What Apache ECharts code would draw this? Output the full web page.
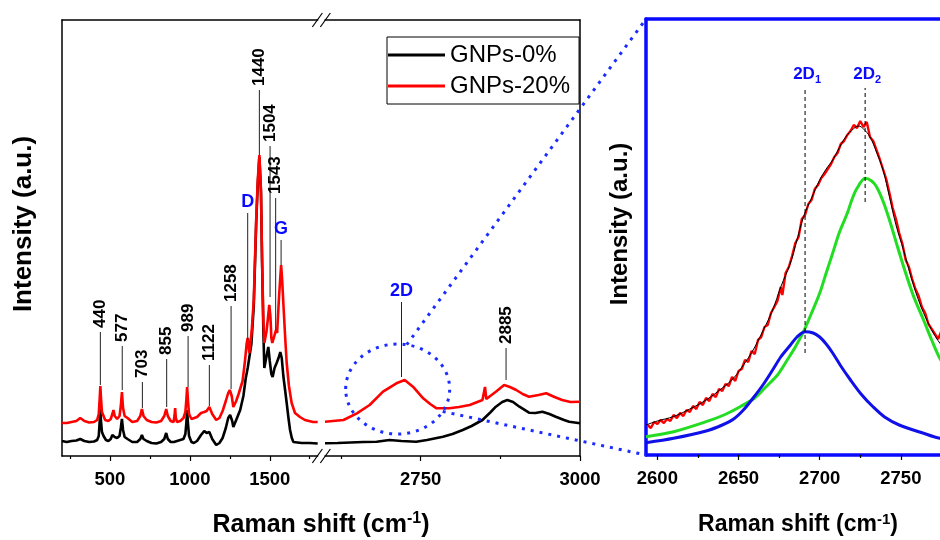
<!DOCTYPE html>
<html><head><meta charset="utf-8">
<script src="https://cdn.jsdelivr.net/npm/echarts@6/dist/echarts.min.js"></script>
<style>html,body{margin:0;padding:0;background:#fff}#c{width:940px;height:540px}</style>
</head><body><div id="c"></div>
<script>
const FONT = '"Liberation Sans", Arial, Helvetica, sans-serif';

// ---------- DATA ----------
// Left (main) panel, low-wavenumber segment 200-1800 cm-1
const gnp0Low = [[200,15],[230,14],[260,15],[290,15.5],[314,17],[340,15],[370,14],[400,14.5],[420,16],[430,20],[436,35],[440,47],[444,35],[450,24],[460,20],[475,16],[490,15],[505,17],[515,21],[522,23],[530,19],[545,18],[560,20],[568,28],[575,37],[582,26],[592,19],[610,17],[640,14],[670,14],[690,17],[700,21],[710,17],[730,15],[760,13],[790,12.5],[820,14],[840,17],[852,23],[862,17],[880,14],[900,14],[920,15],[940,16],[960,17],[972,22],[978,33],[983,46],[988,33],[995,20],[1010,14],[1025,13],[1045,15],[1070,21],[1090,25],[1105,23],[1122,24],[1140,17],[1165,11],[1185,13],[1205,18],[1225,28],[1240,38],[1252,41],[1265,35],[1272,29],[1290,36],[1315,46],[1335,60],[1350,78],[1362,88],[1372,90],[1385,112],[1400,150],[1415,232],[1425,272],[1435,299],[1445,264],[1452,194],[1460,125],[1466,88],[1480,100],[1491,109],[1500,95],[1510,82],[1518,79],[1530,88],[1543,93],[1555,98],[1566,104],[1575,98],[1585,80],[1596,66],[1606,53],[1617,38],[1627,26],[1638,18],[1648,14],[1700,13],[1750,13],[1800,12.5]];
const gnp20Low = [[200,33],[230,33],[260,34],[290,35],[314,38],[340,35],[370,33.5],[400,34],[420,36],[430,42],[436,58],[440,70],[444,58],[450,44],[460,40],[470,36],[490,35],[505,37],[515,42],[522,46],[530,40],[545,37],[560,40],[568,50],[575,64],[582,48],[592,40],[610,38],[640,34],[670,35],[690,40],[700,47],[710,40],[730,36],[760,34],[790,33.5],[820,35],[840,40],[852,47],[862,40],[880,35],[898,34],[904,40],[908,48],[912,38],[920,34],[940,35],[960,38],[972,44],[978,56],[983,69],[988,56],[995,42],[1010,37],[1021,38],[1045,39],[1070,43],[1090,44],[1105,45],[1122,49],[1140,42],[1165,36],[1185,38],[1205,45],[1225,55],[1240,63],[1250,66],[1262,60],[1272,49],[1290,55],[1305,62],[1315,63],[1330,75],[1345,95],[1355,112],[1362,118],[1372,103],[1387,125],[1400,156],[1415,236],[1425,276],[1435,301],[1445,266],[1452,196],[1460,136],[1466,113],[1480,125],[1490,140],[1497,151],[1504,140],[1510,118],[1516,113],[1525,118],[1532,122],[1539,126],[1546,123],[1558,159],[1571,191],[1578,175],[1585,153],[1596,120],[1606,93],[1620,70],[1637,53],[1658,43],[1689,39],[1720,36],[1771,34],[1800,34]];
// Left panel, high-wavenumber segment 2600-3000 cm-1
const gnp0High = [[2600,12.7],[2620,13],[2640,13.5],[2660,14],[2681,14.3],[2701,16],[2720,15],[2743,14.3],[2760,16],[2785,19.3],[2800,22],[2816,26],[2830,30],[2847,36],[2860,44],[2868,49.3],[2878,54],[2886,56],[2895,54],[2905,49.3],[2920,43.3],[2930,43],[2941,44.3],[2952,42],[2962,39.3],[2975,36],[2983,34.3],[3000,32.7]];
const gnp20High = [[2600,34.3],[2629,36],[2650,42.7],[2670,51],[2691,64.3],[2712,72.7],[2725,76],[2738,69.3],[2754,57.7],[2765,52],[2775,47.7],[2795,47.7],[2810,49],[2827,51],[2847,56],[2850,56],[2851,69],[2853,57],[2868,64.3],[2881,71],[2890,69],[2900,66],[2910,62],[2920,59.3],[2935,61],[2947,62.7],[2960,59],[2972,56],[2985,54],[3000,54.3]];
// Peak annotations (x, line bottom, line top, label)
const peakX    = [440, 577, 703, 855, 989, 1122, 1258, 1435, 1502, 1537];
const peakLo   = [71, 66, 48, 49, 69, 50, 67, 301, 159, 126];
const peakHi   = [124, 110, 74, 97, 120, 91, 150, 366, 310, 258];
const peakText = ['440','577','703','855','989','1122','1258','1440','1504','1543'];
const bandX    = [1362, 1571];
const bandLo   = [116, 191];
const bandHi   = [243, 216];
const bandText = ['D', 'G'];
const highPeakX = [2884];
const highPeakLo = [76];
const highPeakHi = [108];
const highPeakText = ['2885'];
const highBandX = [2720];
const highBandLo = [79];
const highBandHi = [154];
const highBandText = ['2D'];
// Zoomed 2D band (right panel)
const zoomData = [[2594,30],[2596,27],[2598,33],[2600,31],[2602,35],[2604,32],[2606,36],[2608,34],[2610,40],[2612,37],[2614,42],[2616,39],[2618,45],[2620,43],[2622,49],[2624,46],[2626,53],[2628,50],[2630,57],[2632,54],[2634,61],[2636,58],[2638,66],[2640,64],[2642,71],[2644,69],[2646,78],[2648,74],[2650,84],[2652,86],[2654,95],[2656,93],[2658,104],[2660,101],[2662,115],[2664,118],[2666,128],[2668,130],[2670,142],[2672,148],[2674,154],[2676,168],[2677,160],[2679,182],[2681,188],[2683,199],[2685,212],[2687,218],[2689,236],[2691,240],[2693,251],[2695,255],[2697,266],[2699,270],[2701,277],[2703,281],[2705,286],[2707,291],[2709,298],[2711,302],[2713,311],[2715,314],[2717,320],[2719,324],[2721,330],[2723,327],[2725,334],[2727,328],[2729,333],[2731,318],[2733,314],[2735,305],[2737,296],[2739,286],[2741,276],[2743,262],[2745,247],[2747,236],[2749,222],[2751,211],[2753,195],[2755,188],[2757,176],[2759,166],[2761,159],[2763,148],[2765,142],[2767,131],[2769,126],[2771,121],[2773,116],[2775,124],[2777,118],[2779,112],[2781,106]];
const zoomFit = [[2593,30],[2600,34],[2610,38.5],[2620,46],[2630,55],[2640,67],[2647,77],[2653,90],[2659,105],[2665,124],[2671,145],[2676,168],[2682,192],[2686,215],[2690,238],[2695,257],[2700,275],[2704,286],[2708,295],[2712,307],[2716,318],[2720,325],[2724,329],[2727,326],[2731,318],[2735,303],[2739,285],[2743,258],[2747,230],[2752,203],[2757,174],[2762,150],[2766,135],[2770,122],[2774,112],[2780,100],[2790,84]];
const zoom2D1 = [[2593,12.3],[2610,16.7],[2630,24],[2640,30],[2647,36],[2653,45],[2659,57],[2665,70],[2671,85],[2676,98],[2682,110],[2686,118],[2691,123.3],[2696,122],[2700,118],[2704,111],[2708,102],[2713,89],[2719,75],[2726,60],[2733,48],[2740,38],[2749,30],[2764,21.7],[2774,16.7],[2790,13]];
const zoom2D2 = [[2593,18.3],[2610,23.3],[2630,33.3],[2641,40],[2651,48.3],[2660,57],[2667,68.3],[2674,80],[2680,95],[2685,108],[2690,123.3],[2695,142],[2700,161.7],[2704,182],[2708,201.7],[2712,222],[2717,241.7],[2720,256],[2723,266.7],[2728,276.7],[2732,274],[2735,268.3],[2739,254],[2743,235],[2748,208],[2753,181.7],[2758,158],[2764,135],[2769,115],[2774,96.7],[2782,76],[2790,60]];
const zoomPeakX = [2691, 2728];
const zoomPeakLo = [102, 253];
const zoomPeakHi = [367, 367];
const zoomPeakSub = ['1', '2'];
// tick values
const lowMajor = [500, 1000, 1500], lowMinor = [250, 750, 1250, 1750];
const highMajor = [2750, 3000], highMinor = [2625, 2875];
const zoomMajor = [2600, 2650, 2700, 2750, 2800], zoomMinor = [2625, 2675, 2725, 2775];

// ---------- STYLE ----------
const BLUE = '#0a0aff';
const labelStyle = {color:'#000', fontFamily: FONT, fontWeight:'bold', fontSize: 18.5, margin: 14, formatter: v => String(v)};

function peakRenderer(texts, rotated, color, size, gap) {
  return function (params, api) {
    const x = api.value(0);
    const p1 = api.coord([x, api.value(1)]);
    const p2 = api.coord([x, api.value(2)]);
    const t = texts[params.dataIndex];
    const ch = [{type:'line', shape:{x1:p1[0], y1:p1[1], x2:p2[0], y2:p2[1]}, style:{stroke:'#222', lineWidth:1}}];
    if (rotated) {
      ch.push({type:'text', x:p2[0], y:p2[1]-gap, rotation:Math.PI/2,
        style:{text:t, fill:color, fontFamily:FONT, fontWeight:'bold', fontSize:size, align:'left', verticalAlign:'middle'}});
    } else {
      ch.push({type:'text', x:p2[0], y:p2[1]-gap,
        style:{text:t, fill:color, fontFamily:FONT, fontWeight:'bold', fontSize:size, align:'center', verticalAlign:'bottom'}});
    }
    return {type:'group', children: ch};
  };
}
function zoomPeakRenderer(params, api) {
  const x = api.value(0);
  const p1 = api.coord([x, api.value(1)]);
  const p2 = api.coord([x, api.value(2)]);
  return {type:'group', children:[
    {type:'line', shape:{x1:p1[0], y1:p1[1], x2:p2[0], y2:p2[1]}, style:{stroke:'#000', lineWidth:1, lineDash:[4,3]}},
    {type:'text', x:p2[0] + 2, y:p2[1]-3, style:{text:'2D{s|' + zoomPeakSub[params.dataIndex] + '}', fill:BLUE,
      fontFamily:FONT, fontWeight:'bold', fontSize:17, align:'center', verticalAlign:'bottom',
      rich:{s:{fontSize:11, fontFamily:FONT, fontWeight:'bold', fill:BLUE, padding:[11,0,0,0]}}}}
  ]};
}
const tri = (xs, lo, hi) => xs.map((x, i) => [x, lo[i], hi[i]]);

function xAx(grid, min, max, pos, opts) {
  return Object.assign({type:'value', gridIndex:grid, min, max, position:pos,
    axisLine:{show:false}, axisTick:{show:false}, axisLabel:{show:false}, splitLine:{show:false}}, opts);
}
const blackLine = {show:true, onZero:false, lineStyle:{color:'#000', width:1.5}};
const blueLine = {show:true, onZero:false, lineStyle:{color:BLUE, width:3.5}};
const major = (vals) => ({show:true, customValues:vals, length:5, lineStyle:{color:'#000', width:1.2}});
const minor = (vals) => ({show:true, customValues:vals, length:3, lineStyle:{color:'#000', width:1.2}});

const option = {
  animation:false,
  backgroundColor:'#fff',
  grid:[
    {left:62, top:20, width:255.7, height:436, outerBoundsMode:'none', containLabel:false},
    {left:325, top:20, width:255, height:436, outerBoundsMode:'none', containLabel:false},
    {left:646, top:19, width:336, height:436, outerBoundsMode:'none', containLabel:false}
  ],
  xAxis:[
    xAx(0, 200, 1800, 'bottom', {axisLine:blackLine, axisTick:major(lowMajor), axisLabel:Object.assign({customValues:lowMajor}, labelStyle)}),
    xAx(0, 200, 1800, 'bottom', {axisTick:minor(lowMinor)}),
    xAx(0, 200, 1800, 'top', {axisLine:blackLine}),
    xAx(1, 2600, 3000, 'bottom', {axisLine:blackLine, axisTick:major(highMajor), axisLabel:Object.assign({customValues:highMajor}, labelStyle)}),
    xAx(1, 2600, 3000, 'bottom', {axisTick:minor(highMinor)}),
    xAx(1, 2600, 3000, 'top', {axisLine:blackLine}),
    xAx(2, 2593, 2800, 'bottom', {axisLine:blueLine, axisTick:major(zoomMajor), axisLabel:Object.assign({customValues:zoomMajor}, labelStyle)}),
    xAx(2, 2593, 2800, 'bottom', {axisTick:minor(zoomMinor)}),
    xAx(2, 2593, 2800, 'top', {axisLine:blueLine})
  ],
  yAxis:[
    {type:'value', gridIndex:0, min:0, max:436, position:'left', axisLine:blackLine, axisTick:{show:false}, axisLabel:{show:false}, splitLine:{show:false}},
    {type:'value', gridIndex:1, min:0, max:436, position:'right', axisLine:blackLine, axisTick:{show:false}, axisLabel:{show:false}, splitLine:{show:false}},
    {type:'value', gridIndex:2, min:0, max:436, position:'left', axisLine:blueLine, axisTick:{show:false}, axisLabel:{show:false}, splitLine:{show:false}}
  ],
  legend:{
    data:['GNPs-0%','GNPs-20%'], orient:'vertical', left:387, top:37,
    padding:[6,9,6,1], itemGap:7, itemWidth:57, itemHeight:3, icon:'rect',
    borderColor:'#000', borderWidth:1, backgroundColor:'#fff',
    textStyle:{color:'#000', fontFamily:FONT, fontSize:24},
    z: 10
  },
  series:[
    {name:'GNPs-0%', type:'line', xAxisIndex:0, yAxisIndex:0, data:gnp0Low, showSymbol:false, symbol:'none', color:'#000', lineStyle:{width:2.6, color:'#000'}},
    {name:'GNPs-0%', type:'line', xAxisIndex:3, yAxisIndex:1, data:gnp0High, showSymbol:false, symbol:'none', color:'#000', lineStyle:{width:2.6, color:'#000'}},
    {name:'GNPs-20%', type:'line', xAxisIndex:0, yAxisIndex:0, data:gnp20Low, showSymbol:false, symbol:'none', color:'#ff0000', lineStyle:{width:2.6, color:'#ff0000'}},
    {name:'GNPs-20%', type:'line', xAxisIndex:3, yAxisIndex:1, data:gnp20High, showSymbol:false, symbol:'none', color:'#ff0000', lineStyle:{width:2.6, color:'#ff0000'}},
    {type:'custom', xAxisIndex:0, yAxisIndex:0, data:tri(peakX, peakLo, peakHi), renderItem:peakRenderer(peakText, true, '#000', 17, 4), z:5},
    {type:'custom', xAxisIndex:0, yAxisIndex:0, data:tri(bandX, bandLo, bandHi), renderItem:peakRenderer(bandText, false, BLUE, 18, 2), z:5},
    {type:'custom', xAxisIndex:3, yAxisIndex:1, data:tri(highPeakX, highPeakLo, highPeakHi), renderItem:peakRenderer(highPeakText, true, '#000', 17, 4), z:5},
    {type:'custom', xAxisIndex:3, yAxisIndex:1, data:tri(highBandX, highBandLo, highBandHi), renderItem:peakRenderer(highBandText, false, BLUE, 18, 2), z:5},
    {name:'2D2 fit', type:'line', xAxisIndex:6, yAxisIndex:2, data:zoom2D2, smooth:0.3, showSymbol:false, symbol:'none', lineStyle:{width:3, color:'#22dd22'}},
    {name:'2D1 fit', type:'line', xAxisIndex:6, yAxisIndex:2, data:zoom2D1, smooth:0.3, showSymbol:false, symbol:'none', lineStyle:{width:3, color:'#1010e8'}},
    {name:'2D data', type:'line', xAxisIndex:6, yAxisIndex:2, data:zoomData, showSymbol:false, symbol:'none', lineStyle:{width:2.4, color:'#ff0000'}},
    {name:'2D sum', type:'line', xAxisIndex:6, yAxisIndex:2, data:zoomFit, smooth:0.4, showSymbol:false, symbol:'none', lineStyle:{width:1, color:'#000'}},
    {type:'custom', xAxisIndex:6, yAxisIndex:2, data:tri(zoomPeakX, zoomPeakLo, zoomPeakHi), renderItem:zoomPeakRenderer, z:5}
  ]
};
const chart = echarts.init(document.getElementById('c'));
chart.setOption(option);

// ---------- decorations (break marks, zoom ellipse, connectors, axis titles) ----------
const px = (xi, yi, v) => chart.convertToPixel({xAxisIndex:xi, yAxisIndex:yi}, v);
const leftEnd = px(0, 0, [1800, 0]);
const rightStart = px(3, 1, [2600, 436]);
const mid = (leftEnd[0] + rightStart[0]) / 2;
const yBot = leftEnd[1], yTop = rightStart[1];
const slash = (x, y) => ({type:'line', shape:{x1:x-5, y1:y+7, x2:x+5, y2:y-7}, style:{stroke:'#000', lineWidth:1.2}, z:20});
const ell = px(3, 1, [2714, 67]);
const zoomTL = px(6, 2, [2593, 436]);
const zoomBL = px(6, 2, [2593, 0]);
const rx = 52, ry = 45;
const a1 = -80 * Math.PI / 180, a2 = 30 * Math.PI / 180;
const dot = {stroke:'#1a2cff', lineWidth:3, lineDash:[3,6], fill:null};
const supRich = (fs) => ({sup:{fontSize:fs, fontWeight:'bold', fontFamily:FONT, fill:'#000', padding:[0,0,fs*0.75,0]}});
const yTitle = (x, fs) => ({type:'text', x:x, y:224, rotation:Math.PI/2, style:{text:'Intensity (a.u.)', fill:'#000', fontFamily:FONT, fontWeight:'bold', fontSize:fs, align:'center', verticalAlign:'middle'}, z:20});
chart.setOption({graphic:[
  slash(mid-4, yBot), slash(mid+4, yBot), slash(mid-4, yTop), slash(mid+4, yTop),
  {type:'ellipse', shape:{cx:ell[0], cy:ell[1], rx:rx, ry:ry}, style:dot, z:20},
  {type:'line', shape:{x1:ell[0]+rx*Math.cos(a1), y1:ell[1]+ry*Math.sin(a1), x2:zoomTL[0], y2:zoomTL[1]}, style:dot, z:20},
  {type:'line', shape:{x1:ell[0]+rx*Math.cos(a2), y1:ell[1]+ry*Math.sin(a2), x2:zoomBL[0], y2:zoomBL[1]}, style:dot, z:20},
  yTitle(24, 26), yTitle(620, 24),
  {type:'text', x:321, y:525, style:{text:'Raman shift (cm{sup|-1})', fill:'#000', fontFamily:FONT, fontWeight:'bold', fontSize:25, align:'center', verticalAlign:'middle', rich:supRich(16)}, z:20},
  {type:'text', x:798, y:525, style:{text:'Raman shift (cm{sup|-1})', fill:'#000', fontFamily:FONT, fontWeight:'bold', fontSize:23, align:'center', verticalAlign:'middle', rich:supRich(15)}, z:20}
]});
</script></body></html>
